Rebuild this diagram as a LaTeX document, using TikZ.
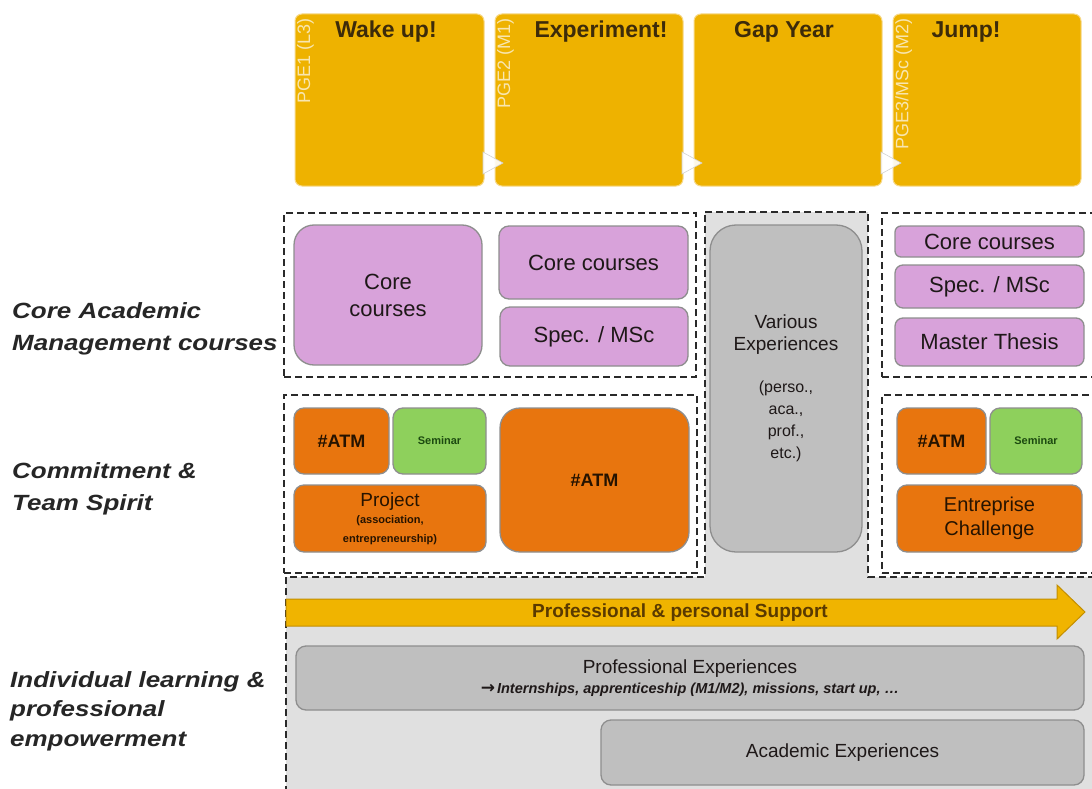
\documentclass[tikz,border=0pt]{standalone}
\usepackage{fontspec}
\setmainfont{Liberation Sans}
\newfontfamily\labfont[FakeStretch=1.18]{Liberation Sans}
\newfontfamily\dejavu{DejaVu Sans}
\definecolor{ybox}{HTML}{EEB200}
\definecolor{yline}{HTML}{F7D988}
\definecolor{ytitle}{HTML}{3D2B0A}
\definecolor{pgecol}{HTML}{F8E6B0}
\definecolor{purp}{HTML}{D8A2DA}
\definecolor{orng}{HTML}{E8750E}
\definecolor{grn}{HTML}{8ED05C}
\definecolor{grnt}{HTML}{1C4A10}
\definecolor{midgray}{HTML}{BFBFBF}
\definecolor{lgray}{HTML}{E0E0E0}
\definecolor{bgray}{HTML}{8E8E8E}
\definecolor{dashc}{HTML}{2A2A2A}
\definecolor{txtd}{HTML}{1E1818}
\definecolor{arrowy}{HTML}{F0B400}
\definecolor{arrowd}{HTML}{C38E00}
\definecolor{supt}{HTML}{5A3A00}
\newcommand\bx[7]{\node[#1, minimum width={(#5-#3)*1pt}, minimum height={(#6-#4)*1pt}] (#2) at ({(#3+#5)/2},{(#4+#6)/2}) {#7};}
\tikzset{
  ybx/.style={draw=yline, fill=ybox, line width=1pt, rounded corners=7pt, inner sep=0pt},
  ttl/.style={font=\fontsize{23}{26}\selectfont\bfseries, text=ytitle, inner sep=0pt},
  pge/.style={font=\fontsize{18}{20}\selectfont, text=pgecol, rotate=90, inner sep=0pt},
  dbox/.style={draw=dashc, line width=2.2pt, dash pattern=on 7pt off 4pt, inner sep=0pt},
  inbox/.style={draw=bgray, line width=1.3pt, inner sep=0pt, align=center, text=txtd},
  pbx/.style={inbox, fill=purp, rounded corners=10pt, font=\fontsize{22}{27}\selectfont},
  obx/.style={inbox, fill=orng, rounded corners=10pt, font=\fontsize{18}{20}\selectfont\bfseries, text=black!85!orange},
  gbx/.style={inbox, fill=grn, rounded corners=10pt, font=\fontsize{11}{12}\selectfont\bfseries, text=grnt},
  gybx/.style={inbox, fill=midgray, rounded corners=10pt, font=\fontsize{19}{22}\selectfont},
  lab/.style={font=\labfont\fontsize{22}{31}\selectfont\bfseries\itshape, text=black!85, anchor=base west, inner sep=0pt},
  tri/.style={fill=white, fill opacity=0.9, draw=black!18, line width=0.6pt}
}
\begin{document}
\begin{tikzpicture}[x=1pt,y=-1pt]
\useasboundingbox (0,0) rectangle (1092,789);
\clip (0,0) rectangle (1092,789);
\fill[white] (0,0) rectangle (1092,789);

% ---- top phase boxes
\bx{ybx}{t1}{295}{14}{484}{186}{}
\bx{ybx}{t2}{495}{14}{683}{186}{}
\bx{ybx}{t3}{694}{14}{882}{186}{}
\bx{ybx}{t4}{893}{14}{1081}{186}{}
\node[ttl, anchor=base] (tt1) at (386,38) {Wake up!};
\node[ttl, anchor=base] (tt2) at (601,38) {Experiment!};
\node[ttl, anchor=base] (tt3) at (784,38) {Gap Year};
\node[ttl, anchor=base] (tt4) at (966,38) {Jump!};
\node[pge, anchor=north east] (pg1) at (297,18) {PGE1 (L3)};
\node[pge, anchor=north east] (pg2) at (497,18) {PGE2 (M1)};
\node[pge, anchor=north east] (pg4) at (895,18) {PGE3/MSc (M2)};
\filldraw[tri] (483,152) -- (503,163) -- (483,174) -- cycle;
\filldraw[tri] (682,152) -- (702,163) -- (682,174) -- cycle;
\filldraw[tri] (881,152) -- (901,163) -- (881,174) -- cycle;

% ---- individual learning region (column + bottom)
\fill[lgray] (705,212) -- (868,212) -- (868,577) -- (1100,577) -- (1100,800) -- (286,800) -- (286,577) -- (705,577) -- cycle;
\draw[dbox] (705,212) -- (868,212) -- (868,577) -- (1100,577) -- (1100,800) -- (286,800) -- (286,577) -- (705,577) -- cycle;

% ---- dashed group boxes
\bx{dbox}{dcore}{284}{213}{696}{377}{}
\bx{dbox}{dcom}{284}{395}{697}{573}{}
\bx{dbox}{dcoreR}{882}{213}{1100}{377}{}
\bx{dbox}{dcomR}{882}{395}{1100}{573}{}

% ---- core academic
\bx{pbx, rounded corners=20pt}{cc1}{294}{225}{482}{365}{Core\\courses}
\bx{pbx}{cc2}{499}{226}{688}{299}{Core courses}
\bx{pbx}{sp1}{500}{307}{688}{366}{Spec. / MSc}
\bx{pbx, rounded corners=6pt}{ccR}{895}{226}{1084}{257}{Core courses}
\bx{pbx, rounded corners=8pt}{spR}{895}{265}{1084}{308}{Spec. / MSc}
\bx{pbx, rounded corners=8pt}{mtR}{895}{318}{1084}{366}{Master Thesis}

% ---- various experiences
\bx{gybx, rounded corners=26pt}{ve}{710}{225}{862}{552}{Various\\Experiences\\[20pt]{\fontsize{16}{19}\selectfont (perso.,}\\{\fontsize{16}{19}\selectfont aca.,}\\{\fontsize{16}{19}\selectfont prof.,}\\{\fontsize{16}{19}\selectfont etc.)}}

% ---- commitment
\bx{obx}{atm1}{294}{408}{389}{474}{\#ATM}
\bx{gbx}{sem1}{393}{408}{486}{474}{Seminar}
\bx{obx}{proj}{294}{485}{486}{552}{{\fontsize{19}{20}\selectfont\mdseries Project}\\[-3pt]{\fontsize{11}{12}\selectfont (association,}\\[-1pt]{\fontsize{11}{12}\selectfont entrepreneurship)}}
\bx{obx, rounded corners=20pt}{atm2}{500}{408}{689}{552}{\#ATM}
\bx{obx}{atmR}{897}{408}{986}{474}{\#ATM}
\bx{gbx}{semR}{990}{408}{1082}{474}{Seminar}
\bx{obx, font=\fontsize{20}{24}\selectfont}{entR}{897}{485}{1082}{552}{Entreprise\\Challenge}

% ---- support arrow
\draw[fill=arrowy, draw=arrowd, line width=1pt] (286,599) -- (1057,599) -- (1057,585) -- (1085,612) -- (1057,639) -- (1057,626) -- (286,626) -- cycle;
\node[font=\fontsize{19}{21}\selectfont\bfseries, text=supt] (sup) at (680,613) {Professional \& personal Support};

% ---- experiences
\bx{gybx}{pe}{296}{646}{1084}{710}{Professional Experiences\\[-2pt]{\fontsize{14.5}{17}\selectfont\bfseries\itshape {\dejavu\fontsize{17}{17}\selectfont\bfseries\upshape →}\kern2pt Internships, apprenticeship (M1/M2), missions, start up, …}}
\bx{gybx}{ae}{601}{720}{1084}{785}{Academic Experiences}

% ---- row labels
\node[lab] (l1a) at (12,318) {Core Academic};
\node[lab] (l1b) at (12,350) {Management courses};
\node[lab] (l2a) at (12,478) {Commitment \&};
\node[lab] (l2b) at (12,510) {Team Spirit};
\node[lab] (l3a) at (10,687) {Individual learning \&};
\node[lab] (l3b) at (10,716) {professional};
\node[lab] (l3c) at (10,746) {empowerment};
\end{tikzpicture}
\end{document}
